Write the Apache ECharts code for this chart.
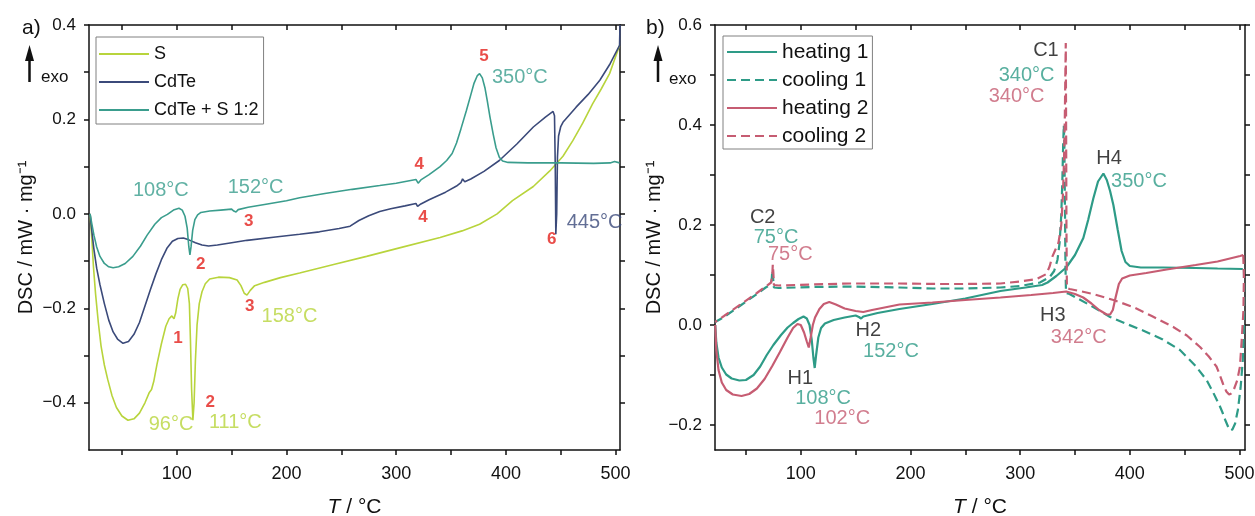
<!DOCTYPE html>
<html>
<head>
<meta charset="utf-8">
<script src="https://cdn.jsdelivr.net/npm/echarts@6/dist/echarts.min.js"></script>
<style>
  html, body { margin: 0; padding: 0; background: #fff; }
  #chart { width: 1255px; height: 516px; }
</style>
</head>
<body>
<div id="chart"></div>
<script>
// a) heating curves: [T / °C, DSC / mW·mg-1]
const sulfur = [[21,0],[22.5,-0.05],[24,-0.11],[26,-0.17],[28.5,-0.23],[31,-0.28],[34,-0.32],[37,-0.35],[41,-0.385],[45,-0.41],[50,-0.428],[55.5,-0.437],[61,-0.434],[66,-0.422],[71,-0.40],[75,-0.378],[77,-0.372],[79,-0.355],[82,-0.318],[86,-0.275],[90,-0.238],[93,-0.222],[95.5,-0.216],[97.5,-0.222],[99,-0.21],[101,-0.18],[103,-0.16],[105.5,-0.150],[108,-0.149],[110,-0.158],[111.5,-0.19],[112.5,-0.27],[113.5,-0.37],[114.7,-0.437],[115.8,-0.40],[117,-0.31],[118.5,-0.235],[120.5,-0.19],[123,-0.165],[126,-0.148],[130,-0.138],[138,-0.134],[148,-0.135],[155,-0.14],[158.5,-0.152],[161.5,-0.168],[164,-0.172],[167,-0.162],[171,-0.152],[180,-0.145],[194.5,-0.135],[212,-0.125],[243,-0.107],[273,-0.090],[303,-0.072],[340,-0.050],[360,-0.036],[376,-0.022],[392,0.0],[406,0.028],[425,0.058],[440,0.091],[452,0.122],[461,0.155],[470,0.192],[479,0.233],[487,0.265],[494.5,0.297],[503.5,0.356]];
const cdte = [[21,0],[22.5,-0.035],[24.5,-0.075],[27,-0.115],[30,-0.15],[34,-0.19],[38,-0.225],[42,-0.25],[46,-0.265],[51,-0.274],[56,-0.27],[61,-0.255],[66,-0.23],[71,-0.195],[76,-0.16],[81,-0.127],[86,-0.097],[91,-0.073],[96,-0.058],[101,-0.052],[106,-0.051],[111,-0.055],[117,-0.061],[123,-0.066],[129,-0.068],[137,-0.066],[150,-0.061],[164,-0.056],[190,-0.049],[212,-0.043],[230,-0.038],[248,-0.031],[258,-0.026],[266,-0.014],[275,-0.004],[285,0.005],[295,0.011],[308,0.017],[318,0.022],[319.5,0.016],[321,0.013],[322.5,0.021],[330,0.030],[345,0.046],[355,0.059],[359,0.066],[360.5,0.074],[362.5,0.068],[368,0.074],[380,0.090],[394,0.113],[410,0.148],[425,0.184],[436,0.205],[443,0.217],[444.3,0.208],[445,0.10],[445.5,-0.043],[446.3,0.0],[447,0.12],[448,0.165],[450,0.185],[452,0.194],[458,0.21],[464,0.226],[475,0.253],[485.6,0.283],[495,0.318],[503.6,0.357],[504,0.40]];
const cdteS = [[21,0],[22.5,-0.02],[24.5,-0.045],[27,-0.07],[30,-0.09],[34,-0.105],[38,-0.112],[42,-0.114],[47,-0.112],[53,-0.105],[60,-0.09],[67,-0.068],[73,-0.045],[80,-0.022],[86,-0.008],[91.5,-0.001],[97,0.008],[102,0.012],[105,0.008],[107.5,-0.005],[109.5,-0.03],[111,-0.07],[112,-0.087],[113,-0.07],[114.5,-0.035],[116.5,-0.012],[119,-0.002],[122,0.003],[130,0.006],[140,0.008],[150,0.010],[152,0.006],[154,0.004],[156,0.009],[165,0.014],[180,0.020],[200,0.028],[212,0.034],[235,0.043],[260,0.052],[285,0.060],[300,0.065],[318,0.073],[320,0.065],[322.5,0.072],[330,0.083],[340,0.100],[346,0.113],[351,0.128],[355,0.15],[359,0.18],[364,0.219],[368,0.252],[371,0.277],[374,0.293],[376,0.297],[378.5,0.288],[381,0.266],[383,0.24],[385.5,0.205],[388.5,0.168],[391,0.14],[394,0.12],[397,0.112],[402,0.109],[420,0.108],[450,0.108],[480,0.107],[495,0.108],[499,0.111],[503.6,0.108]];

// b) CdTe + S 1:2, two heating / cooling cycles
const heating1 = [[22,0],[23,-0.035],[25,-0.065],[28,-0.085],[32,-0.099],[37,-0.107],[44,-0.111],[50,-0.11],[57,-0.1],[63,-0.083],[69,-0.06],[75,-0.04],[82,-0.02],[88,-0.005],[93,0.004],[98,0.012],[102.5,0.017],[105.5,0.013],[108,0.0],[110,-0.03],[111.5,-0.065],[112.7,-0.086],[114,-0.06],[116,-0.025],[118.5,-0.006],[122,0.003],[130,0.010],[140,0.015],[150,0.019],[153,0.016],[155,0.013],[157,0.017],[170,0.024],[190,0.032],[220,0.042],[250,0.053],[282,0.068],[305,0.075],[320,0.08],[325,0.085],[333,0.098],[342,0.115],[350,0.14],[357.6,0.174],[362,0.21],[366.7,0.253],[371,0.287],[375.9,0.303],[379,0.29],[382,0.268],[385,0.24],[389,0.19],[392.5,0.148],[396,0.126],[400,0.118],[410,0.115],[430,0.115],[460,0.114],[480,0.113],[503,0.112]];
const cooling1 = [[504,0.112],[504.3,0.06],[504,0.0],[503,-0.07],[501,-0.125],[498.5,-0.17],[496,-0.197],[493.5,-0.209],[491.6,-0.211],[489.5,-0.203],[487,-0.19],[484.5,-0.175],[482,-0.162],[476,-0.135],[470,-0.11],[460,-0.082],[445.7,-0.05],[430,-0.029],[412,-0.011],[395,0.004],[382,0.016],[365,0.038],[350,0.056],[345,0.062],[341.8,0.064],[341.3,0.12],[340.8,0.25],[340.3,0.36],[339.8,0.40],[339.2,0.36],[338.5,0.29],[337.5,0.22],[336,0.165],[334,0.13],[331,0.108],[327,0.096],[318,0.085],[300,0.078],[282,0.075],[250,0.073],[220,0.073],[190,0.075],[145,0.077],[110,0.076],[80,0.074],[75.5,0.075],[74.5,0.10],[74,0.109],[73.5,0.09],[72,0.08],[68,0.075],[60,0.062],[45,0.039],[30,0.016],[22,0.006]];
const heating2 = [[22,0],[23,-0.05],[25,-0.09],[28,-0.115],[32,-0.13],[38,-0.139],[46,-0.142],[53,-0.138],[60,-0.127],[67,-0.108],[74,-0.082],[81,-0.054],[88,-0.025],[93,-0.006],[97,0.002],[100,0.0],[103,-0.015],[105.5,-0.033],[107.3,-0.045],[109,-0.025],[111,0.0],[113,0.015],[117,0.032],[121,0.042],[126,0.046],[132,0.041],[140,0.033],[150,0.028],[157,0.026],[165,0.030],[190,0.041],[220,0.045],[250,0.050],[282,0.055],[310,0.060],[330,0.064],[342,0.067],[350,0.062],[357.5,0.055],[365,0.043],[372,0.030],[378.9,0.021],[382,0.021],[384.5,0.03],[387,0.055],[390,0.082],[393,0.093],[400,0.099],[415,0.104],[433.6,0.111],[460,0.120],[480,0.127],[500.6,0.138],[503.4,0.140]];
const cooling2 = [[503.4,0.140],[504,0.10],[503.6,0.03],[502,-0.03],[500.4,-0.083],[498,-0.11],[495,-0.128],[492.5,-0.137],[490.5,-0.139],[488,-0.133],[485,-0.118],[482,-0.1],[479,-0.083],[472,-0.063],[464,-0.044],[452,-0.021],[439.6,-0.004],[420,0.018],[403,0.036],[385,0.050],[366.6,0.062],[352,0.069],[345,0.072],[342.6,0.074],[342.2,0.2],[341.9,0.4],[341.6,0.564],[341.2,0.50],[340.7,0.41],[340,0.33],[339,0.26],[337.5,0.2],[335,0.165],[332,0.15],[330.5,0.152],[329,0.135],[327,0.118],[324,0.102],[315,0.092],[300,0.087],[282,0.083],[250,0.082],[227,0.082],[190,0.083],[145,0.083],[110,0.081],[80,0.079],[75.5,0.08],[75,0.105],[74.5,0.121],[74,0.1],[73,0.085],[68,0.077],[60,0.064],[45,0.041],[30,0.018],[22,0.006]];

// ticks and labels
const xTicks = [50, 100, 150, 200, 250, 300, 350, 400, 450, 500];
const xLabels = [100, 200, 300, 400, 500];
const yTicksA = [-0.4, -0.3, -0.2, -0.1, 0, 0.1, 0.2, 0.3, 0.4];
const yLabelsA = [-0.4, -0.2, 0, 0.2, 0.4];
const yTicksB = [-0.2, -0.1, 0, 0.1, 0.2, 0.3, 0.4, 0.5, 0.6];
const yLabelsB = [-0.2, 0, 0.2, 0.4, 0.6];

// peak annotations [T, DSC, text]
const notesA_teal = [[85.5, 0.049, '108°C'], [171.8, 0.055, '152°C'], [412.7, 0.289, '350°C']];
const notesA_sulfur = [[94.8, -0.447, '96°C'], [153.4, -0.442, '111°C'], [202.7, -0.217, '158°C']];
const notesA_cdte = [[480.9, -0.019, '445°C']];
const notesA_num = [[101, -0.264, '1'], [121.8, -0.106, '2'], [130.4, -0.4, '2'], [165.5, -0.015, '3'], [166.4, -0.196, '3'], [320.9, 0.106, '4'], [324.5, -0.008, '4'], [380, 0.334, '5'], [441.8, -0.053, '6']];
const notesB_black = [[323.5, 0.55, 'C1'], [381, 0.333, 'H4'], [65.3, 0.215, 'C2'], [99.5, -0.106, 'H1'], [161.5, -0.011, 'H2'], [329.8, 0.02, 'H3']];
const notesB_teal = [[305.9, 0.499, '340°C'], [408.3, 0.287, '350°C'], [77.4, 0.176, '75°C'], [120.3, -0.147, '108°C'], [182.2, -0.053, '152°C']];
const notesB_pink = [[296.8, 0.458, '340°C'], [90.4, 0.141, '75°C'], [137.8, -0.186, '102°C'], [353.4, -0.024, '342°C']];

const font = '"Liberation Sans", Arial, sans-serif';
const ink = '#111';
const cS = '#b8d43c', cCdTe = '#3b4a7a', cMix = '#3a9d8d';
const cTeal = '#2e9b87', cPink = '#c65c72', cRed = '#e3201b';

const chart = echarts.init(document.getElementById('chart'));

function fmtY(v) {
  return (v < 0 ? '\u2212' : '') + Math.abs(v).toFixed(1);
}

function xAxes(grid, min, max, nameGap) {
  const base = {
    type: 'value', gridIndex: grid, min, max,
    axisLine: { show: true, onZero: false, lineStyle: { color: ink, width: 1.5 } },
    splitLine: { show: false }
  };
  return [
    Object.assign({}, base, {
      position: 'bottom',
      name: '{i|T} / °C', nameLocation: 'middle', nameGap,
      nameTextStyle: { fontFamily: font, fontSize: 21, color: ink,
        rich: { i: { fontFamily: font, fontSize: 21, fontStyle: 'italic', color: ink } } },
      axisTick: { show: true, inside: false, length: 5, customValues: xTicks, lineStyle: { color: ink, width: 1.5 } },
      axisLabel: { customValues: xLabels, margin: 15, fontFamily: font, fontSize: 18, color: ink }
    }),
    Object.assign({}, base, {
      position: 'top',
      axisTick: { show: true, inside: true, length: 5, customValues: xTicks, lineStyle: { color: ink, width: 1.5 } },
      axisLabel: { show: false }
    })
  ];
}

function yAxes(grid, min, max, ticks, labels, nameGap) {
  const base = {
    type: 'value', gridIndex: grid, min, max,
    axisLine: { show: true, onZero: false, lineStyle: { color: ink, width: 1.5 } },
    axisTick: { show: true, inside: false, length: 5, customValues: ticks, lineStyle: { color: ink, width: 1.5 } },
    splitLine: { show: false }
  };
  return [
    Object.assign({}, base, {
      position: 'left',
      name: 'DSC / mW \u00b7 mg\u207b\u00b9', nameLocation: 'middle', nameGap,
      nameTextStyle: { fontFamily: font, fontSize: 20, color: ink },
      axisLabel: { customValues: labels, margin: 13, fontFamily: font, fontSize: 17, color: ink, formatter: fmtY }
    }),
    Object.assign({}, base, {
      position: 'right',
      axisLabel: { show: false }
    })
  ];
}

function line(name, data, color, xi, yi, width, dashed) {
  return {
    type: 'line', name, data, xAxisIndex: xi, yAxisIndex: yi,
    symbol: 'none', showSymbol: false, smooth: false,
    lineStyle: { color, width, type: dashed ? [9, 5] : 'solid' },
    itemStyle: { color }
  };
}

function notes(list, color, xi, yi, size, bold) {
  return {
    type: 'scatter', xAxisIndex: xi, yAxisIndex: yi, silent: true,
    symbolSize: 1, itemStyle: { color: 'rgba(0,0,0,0)' }, clip: false, z: 5,
    data: list.map(n => ({ value: [n[0], n[1]], name: n[2] })),
    label: { show: true, position: 'inside', formatter: '{b}', color,
      fontFamily: font, fontSize: size, fontWeight: bold ? 'bold' : 'normal' }
  };
}

function arrow(x) {
  return [
    { type: 'polygon', shape: { points: [[x, 45], [x - 4.5, 61], [x + 4.5, 61]] }, style: { fill: ink } },
    { type: 'line', shape: { x1: x, y1: 58, x2: x, y2: 82 }, style: { stroke: ink, lineWidth: 2.5 } }
  ];
}

const legendBase = {
  orient: 'vertical', itemWidth: 50, itemHeight: 14, selectedMode: false,
  borderColor: '#808080', borderWidth: 1,
  itemStyle: { opacity: 0 }
};

const option = {
  animation: false,
  grid: [
    { left: 89, top: 25, width: 531, height: 425, outerBoundsMode: 'none' },
    { left: 715, top: 25, width: 530, height: 425, outerBoundsMode: 'none' }
  ],
  xAxis: [].concat(xAxes(0, 20, 504, 47), xAxes(1, 21.8, 505, 47)),
  yAxis: [].concat(yAxes(0, -0.5, 0.4, yTicksA, yLabelsA, 53), yAxes(1, -0.25, 0.6, yTicksB, yLabelsB, 43)),
  legend: [
    Object.assign({}, legendBase, {
      data: ['S', 'CdTe', 'CdTe + S 1:2'], left: 96, top: 37,
      itemGap: 8, padding: [7, 5, 4, 2],
      textStyle: { fontFamily: font, fontSize: 18, color: ink, lineHeight: 20 }
    }),
    Object.assign({}, legendBase, {
      data: ['heating 1', 'cooling 1', 'heating 2', 'cooling 2'], left: 723, top: 36,
      itemGap: 6, padding: [5, 4, 2, 3],
      textStyle: { fontFamily: font, fontSize: 21, color: ink, lineHeight: 22 }
    })
  ],
  graphic: [
    { type: 'text', x: 22, y: 28, style: { text: 'a)', fontFamily: font, fontSize: 21, fill: ink, verticalAlign: 'middle' } },
    { type: 'text', x: 646, y: 28, style: { text: 'b)', fontFamily: font, fontSize: 21, fill: ink, verticalAlign: 'middle' } },
    { type: 'text', x: 41, y: 77, style: { text: 'exo', fontFamily: font, fontSize: 17, fill: ink, verticalAlign: 'middle' } },
    { type: 'text', x: 669, y: 79, style: { text: 'exo', fontFamily: font, fontSize: 17, fill: ink, verticalAlign: 'middle' } }
  ].concat(arrow(29.5), arrow(658)),
  series: [
    line('S', sulfur, cS, 0, 0, 1.6),
    line('CdTe', cdte, cCdTe, 0, 0, 1.6),
    line('CdTe + S 1:2', cdteS, cMix, 0, 0, 1.6),
    line('heating 1', heating1, cTeal, 2, 2, 2.2),
    line('cooling 1', cooling1, cTeal, 2, 2, 2.2, true),
    line('heating 2', heating2, cPink, 2, 2, 2.2),
    line('cooling 2', cooling2, cPink, 2, 2, 2.2, true),
    notes(notesA_teal, cMix, 0, 0, 20),
    notes(notesA_sulfur, cS, 0, 0, 20),
    notes(notesA_cdte, cCdTe, 0, 0, 20),
    notes(notesA_num, cRed, 0, 0, 17, true),
    notes(notesB_black, ink, 2, 2, 20),
    notes(notesB_teal, cTeal, 2, 2, 20),
    notes(notesB_pink, cPink, 2, 2, 20)
  ]
};

chart.setOption(option);
</script>
</body>
</html>
